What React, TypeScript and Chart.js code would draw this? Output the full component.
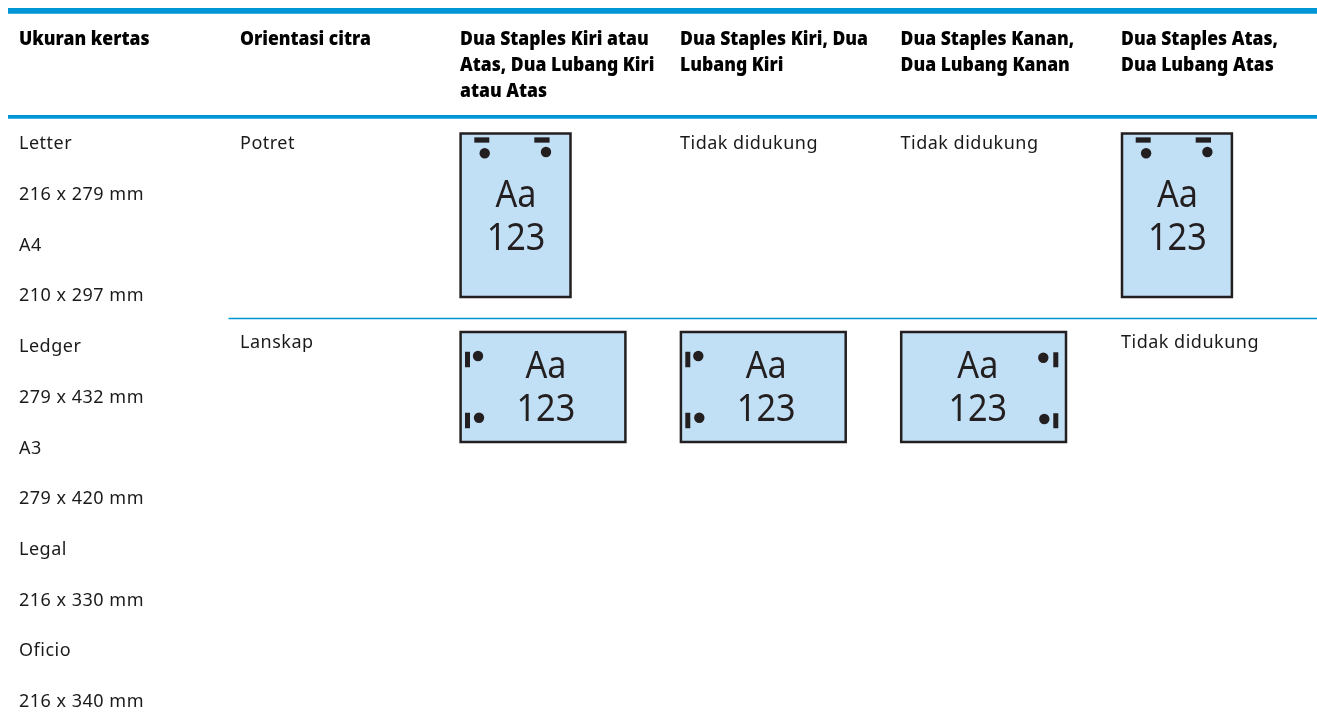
import React, { useEffect, useRef } from "react";
import { Chart, registerables } from "chart.js";

Chart.register(...registerables);

const WIDTH = 1317;
const HEIGHT = 721;

// ---- content ----
const columnHeaders: string[][] = [
  ["Ukuran kertas"],
  ["Orientasi citra"],
  ["Dua Staples Kiri atau", "Atas, Dua Lubang Kiri", "atau Atas"],
  ["Dua Staples Kiri, Dua", "Lubang Kiri"],
  ["Dua Staples Kanan,", "Dua Lubang Kanan"],
  ["Dua Staples Atas,", "Dua Lubang Atas"],
];
const paperSizes = [
  "Letter", "216 x 279 mm", "A4", "210 x 297 mm", "Ledger", "279 x 432 mm",
  "A3", "279 x 420 mm", "Legal", "216 x 330 mm", "Oficio", "216 x 340 mm",
];
const orientations = ["Potret", "Lanskap"];
const notSupported = "Tidak didukung";
const notSupportedCells = [
  { col: 3, row: 0 },
  { col: 4, row: 0 },
  { col: 5, row: 1 },
];
const pageIcons = [
  { col: 2, row: 0, kind: "top" },
  { col: 5, row: 0, kind: "top" },
  { col: 2, row: 1, kind: "left" },
  { col: 3, row: 1, kind: "left" },
  { col: 4, row: 1, kind: "right" },
];
const iconLines = ["Aa", "123"];

// ---- layout ----
const BLUE = "#0096d6";
const INK = "#231f20";
const PAPER = "#c2e0f5";
const textLeft = [19, 240, 460, 680, 900.5, 1121];
const iconLeft = [0, 0, 460.6, 680.9, 901.2, 1122];
const rowRuleY = [10.85, 116.85, 318.5];
const ruleLeft = [8, 8, 228.5];
const ruleWeight = [5.7, 3.7, 1.3];
const headerBase = [45, 71, 97];
const bodyBase = 149.3;
const bodyStep = 50.7;
const orientBase = [149.3, 348];
const portrait = { top: 133.6, w: 109.9, h: 163.5 };
const landscape = { top: 332, w: 164.8, h: 110 };

const FONT = '"Noto Sans", sans-serif';

type Pt = { x: number; y: number };

function seg(a: Pt, b: Pt, w: number) {
  return {
    data: [a, b], showLine: true, borderColor: INK, borderWidth: w,
    pointRadius: 0, borderCapStyle: "butt", order: 1, clip: false,
  };
}

function buildDatasets() {
  const ds: any[] = [];
  rowRuleY.forEach((y, i) => {
    ds.push({
      data: [{ x: ruleLeft[i], y }, { x: WIDTH, y }], showLine: true,
      borderColor: BLUE, borderWidth: ruleWeight[i], pointRadius: 0, order: 4, clip: false,
    });
  });
  pageIcons.forEach((p) => {
    const l = iconLeft[p.col];
    const isTop = p.kind === "top";
    const t = isTop ? portrait.top : landscape.top;
    const w = isTop ? portrait.w : landscape.w;
    const h = isTop ? portrait.h : landscape.h;
    ds.push({
      data: [
        { x: l, y: t }, { x: l + w, y: t }, { x: l + w, y: t + h }, { x: l, y: t + h }, { x: l, y: t },
      ],
      showLine: true, fill: "shape", backgroundColor: PAPER, borderColor: INK, borderWidth: 2.5,
      borderJoinStyle: "miter", borderCapStyle: "square", pointRadius: 0, tension: 0, order: 3, clip: false,
    });
    const dots: Pt[] = [];
    if (isTop) {
      ds.push(seg({ x: l + 13.7, y: t + 6.4 }, { x: l + 28.7, y: t + 6.4 }, 5.3));
      ds.push(seg({ x: l + 73.7, y: t + 6.4 }, { x: l + 89, y: t + 6.4 }, 5.3));
      dots.push({ x: l + 24.1, y: t + 19.7 }, { x: l + 85.4, y: t + 18.4 });
    } else if (p.kind === "left") {
      ds.push(seg({ x: l + 6.9, y: t + 19.7 }, { x: l + 6.9, y: t + 35.3 }, 5));
      ds.push(seg({ x: l + 6.9, y: t + 80.7 }, { x: l + 6.9, y: t + 96.3 }, 5));
      dots.push({ x: l + 17.4, y: t + 24 }, { x: l + 18.4, y: t + 85.7 });
    } else {
      ds.push(seg({ x: l + 154.6, y: t + 20.3 }, { x: l + 154.6, y: t + 35.3 }, 5));
      ds.push(seg({ x: l + 154.6, y: t + 81.3 }, { x: l + 154.6, y: t + 96.3 }, 5));
      dots.push({ x: l + 142.1, y: t + 25.7 }, { x: l + 143.1, y: t + 87 });
    }
    ds.push({
      data: dots, showLine: false, pointRadius: 5.2, pointBorderWidth: 0, pointBackgroundColor: INK,
      pointStyle: "circle", order: 1, clip: false,
    });
  });
  return ds;
}

const tablePlugin = {
  id: "tableText",
  afterDatasetsDraw(chart: any) {
    const { ctx, scales } = chart;
    const X = (v: number) => scales.x.getPixelForValue(v);
    const Y = (v: number) => scales.y.getPixelForValue(v);
    const squeezed = (s: string, x: number, y: number, k: number) =>
      ctx.fillText(s, x, y, ctx.measureText(s).width * k);
    ctx.save();
    ctx.textBaseline = "alphabetic";
    ctx.textAlign = "left";
    ctx.fillStyle = "#000000";
    ctx.font = `900 19.5px ${FONT}`;
    columnHeaders.forEach((lines, c) =>
      lines.forEach((line, i) => squeezed(line, X(textLeft[c]), Y(headerBase[i]), 0.9))
    );
    ctx.fillStyle = "#1a1a1a";
    ctx.font = `400 18px ${FONT}`;
    (ctx as any).letterSpacing = "0.5px";
    paperSizes.forEach((s, i) => ctx.fillText(s, X(textLeft[0]), Y(bodyBase + i * bodyStep)));
    orientations.forEach((s, i) => ctx.fillText(s, X(textLeft[1]), Y(orientBase[i])));
    notSupportedCells.forEach((cell) =>
      ctx.fillText(notSupported, X(textLeft[cell.col]), Y(orientBase[cell.row]))
    );
    (ctx as any).letterSpacing = "0px";
    ctx.fillStyle = INK;
    ctx.textAlign = "center";
    ctx.font = `400 38px ${FONT}`;
    pageIcons.forEach((p) => {
      const l = iconLeft[p.col];
      const cx = p.kind === "top" ? l + 55.4 : p.kind === "left" ? l + 85.3 : l + 76.6;
      const b = p.kind === "top" ? [207, 250] : [378, 421.3];
      squeezed(iconLines[0], X(cx), Y(b[0]), 0.9);
      squeezed(iconLines[1], X(cx), Y(b[1]), 0.9);
    });
    ctx.restore();
  },
};

export default function App() {
  const ref = useRef<HTMLCanvasElement>(null);
  useEffect(() => {
    if (!ref.current) return;
    const chart = new Chart(ref.current, {
      type: "scatter",
      data: { datasets: buildDatasets() },
      options: {
        responsive: false,
        animation: false,
        events: [],
        layout: { padding: 0, autoPadding: false },
        plugins: { legend: { display: false }, tooltip: { enabled: false }, title: { display: false } },
        scales: {
          x: { type: "linear", min: 0, max: WIDTH, display: false },
          y: { type: "linear", min: 0, max: HEIGHT, reverse: true, display: false },
        },
      },
      plugins: [tablePlugin],
    } as any);
    return () => chart.destroy();
  }, []);
  return (
    <div style={{ position: "fixed", left: 0, top: 0, width: WIDTH, height: HEIGHT, background: "#fff" }}>
      <canvas ref={ref} width={WIDTH} height={HEIGHT} style={{ display: "block" }} />
    </div>
  );
}
